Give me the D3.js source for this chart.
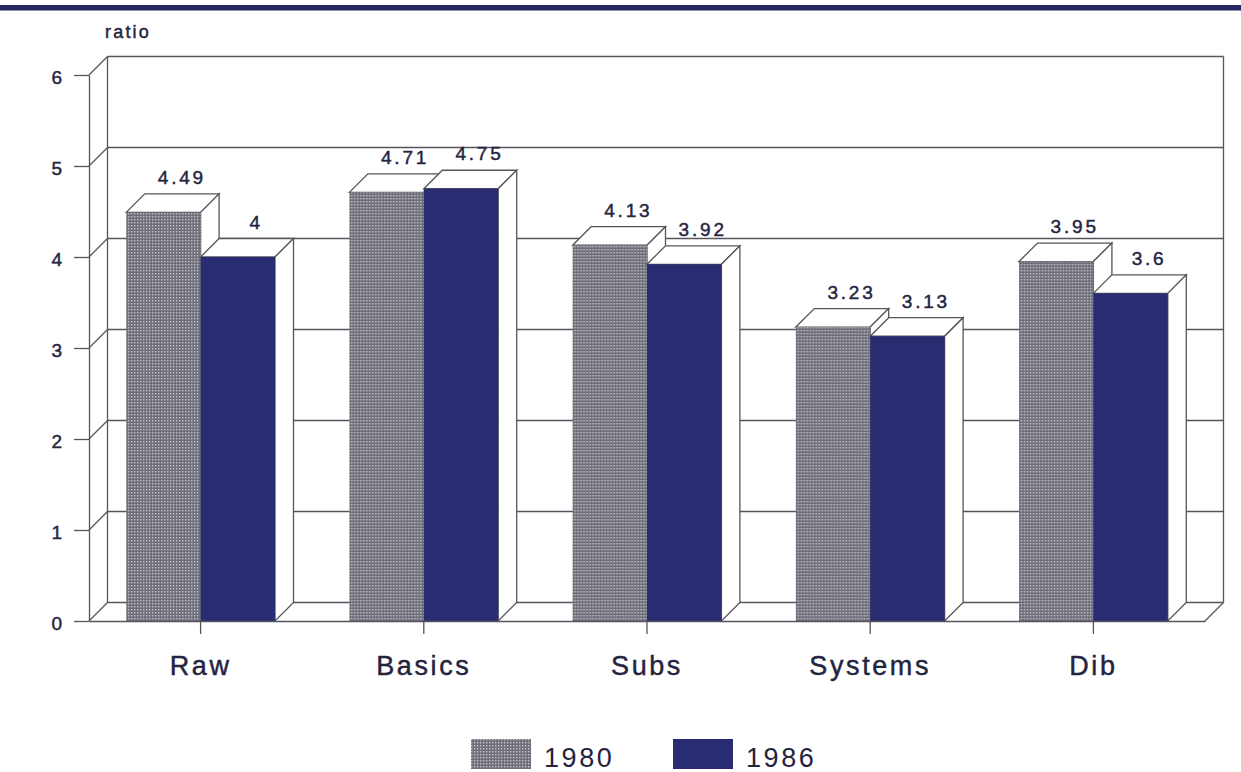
<!DOCTYPE html>
<html>
<head>
<meta charset="utf-8">
<script src="https://cdn.jsdelivr.net/npm/d3@7"></script>
<style>
  html, body { margin: 0; padding: 0; background: #fff; }
  svg { display: block; }
  text { font-family: "Liberation Sans", Arial, sans-serif; fill: #24243f; }
  .heavy { stroke: #24243f; stroke-width: 0.45; }
</style>
</head>
<body>
<svg id="chart" width="1241" height="772"></svg>
<script>
// Ratio by industry group, 1980 against 1986
const categories = ["Raw", "Basics", "Subs", "Systems", "Dib"];
const years = ["1980", "1986"];
const values1980 = [4.49, 4.71, 4.13, 3.23, 3.95];
const values1986 = [4, 4.75, 3.92, 3.13, 3.6];
const yTicks = [0, 1, 2, 3, 4, 5, 6];

const svg = d3.select("#chart");
const ink = "#55555c";
const depth = 18.5;          // oblique offset of the back wall
const navy = "#2a2c72";

const x = d3.scaleBand().domain(categories).range([89, 1205]);
const xInner = d3.scaleBand().domain(years).range([0, x.bandwidth()]).paddingInner(0).paddingOuter(0.5);
const y = d3.scaleLinear().domain([0, 6]).range([621, 75]);

// Halftone fill of the 1980 bars
const defs = svg.append("defs");
const halftone = defs.append("pattern")
  .attr("id", "halftone").attr("patternUnits", "userSpaceOnUse")
  .attr("width", 3).attr("height", 3);
halftone.append("rect").attr("width", 3).attr("height", 3).attr("fill", "#6f6f7a");
halftone.append("rect").attr("width", 1.4).attr("height", 1.4).attr("fill", "#c4c4ce");

const fillFor = { "1980": "url(#halftone)", "1986": navy };

// Rule across the top of the page
svg.append("rect").attr("x", 0).attr("y", 5).attr("width", 1241).attr("height", 5.5).attr("fill", "#25275f");

const [xL, xR] = x.range();
const lines = svg.append("g").attr("stroke", ink).attr("stroke-width", 1.3).attr("fill", "none");

// Back wall, with a gridline at every tick
lines.selectAll(".grid").data(yTicks).join("line").attr("class", "grid")
  .attr("x1", xL + depth).attr("x2", xR + depth)
  .attr("y1", d => y(d) - depth).attr("y2", d => y(d) - depth);
lines.append("line").attr("x1", xL + depth).attr("x2", xL + depth).attr("y1", y(6) - depth).attr("y2", y(0) - depth);
lines.append("line").attr("x1", xR + depth).attr("x2", xR + depth).attr("y1", y(6) - depth).attr("y2", y(0) - depth);

// Side wall diagonals and the floor's right edge
lines.selectAll(".diag").data(yTicks).join("line").attr("class", "diag")
  .attr("x1", xL).attr("x2", xL + depth)
  .attr("y1", d => y(d)).attr("y2", d => y(d) - depth);
lines.append("line").attr("x1", xR).attr("x2", xR + depth).attr("y1", y(0)).attr("y2", y(0) - depth);

// Bars as oblique boxes: top and side faces first, then the front
const groups = svg.append("g").selectAll("g").data(categories).join("g")
  .attr("transform", d => `translate(${x(d)},0)`);

const series = [values1980, values1986];
years.forEach((year, s) => {
  const bw = xInner.bandwidth();
  const x0 = xInner(year);
  const box = groups.append("g");
  const v = (d, i) => y(series[s][i]);
  box.append("path")
    .attr("d", (d, i) => {
      const t = v(d, i);
      return `M${x0},${t}L${x0 + depth},${t - depth}H${x0 + bw + depth}L${x0 + bw},${t}Z`;
    })
    .attr("fill", "#fff").attr("stroke", ink).attr("stroke-width", 1.3);
  box.append("path")
    .attr("d", (d, i) => {
      const t = v(d, i);
      return `M${x0 + bw},${t}L${x0 + bw + depth},${t - depth}V${y(0) - depth}L${x0 + bw},${y(0)}Z`;
    })
    .attr("fill", "#fff").attr("stroke", ink).attr("stroke-width", 1.3);
  box.append("rect")
    .attr("x", x0).attr("width", bw)
    .attr("y", (d, i) => v(d, i))
    .attr("height", (d, i) => y(0) - v(d, i))
    .attr("fill", fillFor[year]);
  box.append("text")
    .attr("class", "heavy")
    .attr("x", x0 + bw / 2 + depth)
    .attr("y", (d, i) => v(d, i) - depth - 10)
    .attr("text-anchor", "middle")
    .attr("font-size", 19).attr("letter-spacing", 2.8)
    .text((d, i) => series[s][i]);
});

// Axes along the front edges
const yAxis = svg.append("g").attr("transform", `translate(${xL},0)`)
  .call(d3.axisLeft(y).tickValues(yTicks).tickSizeInner(15).tickSizeOuter(0).tickPadding(12).tickFormat(d3.format("d")));
yAxis.selectAll("line").attr("stroke", ink).attr("stroke-width", 1.3);
yAxis.select(".domain").attr("stroke", ink).attr("stroke-width", 1.3);
yAxis.selectAll("text").attr("class", "heavy").attr("dy", "0.45em")
  .attr("font-size", 19).attr("font-family", "Liberation Sans").attr("fill", "#24243f");

const xAxis = svg.append("g").attr("transform", `translate(0,${y(0)})`)
  .call(d3.axisBottom(x).tickSizeInner(13).tickSizeOuter(0).tickPadding(15));
xAxis.selectAll("line").attr("stroke", ink).attr("stroke-width", 1.3);
xAxis.select(".domain").attr("stroke", ink).attr("stroke-width", 1.3);
xAxis.selectAll("text").attr("class", "heavy").attr("dy", "0.98em").attr("font-size", 27)
  .attr("letter-spacing", 2.6).attr("font-family", "Liberation Sans").attr("fill", "#24243f");

svg.append("text").attr("class", "heavy").attr("x", 105).attr("y", 38)
  .attr("font-size", 18).attr("letter-spacing", 2.2).text("ratio");

// Legend
const legendX = d3.scaleOrdinal().domain(years).range([471, 673]);
const legend = svg.append("g").selectAll("g").data(years).join("g")
  .attr("transform", d => `translate(${legendX(d)},739)`);
legend.append("rect").attr("width", 60).attr("height", 30).attr("fill", d => fillFor[d]);
legend.append("text").attr("x", 73).attr("y", 27.5)
  .attr("font-size", 27).attr("letter-spacing", 2.6).text(d => d);
</script>
</body>
</html>
